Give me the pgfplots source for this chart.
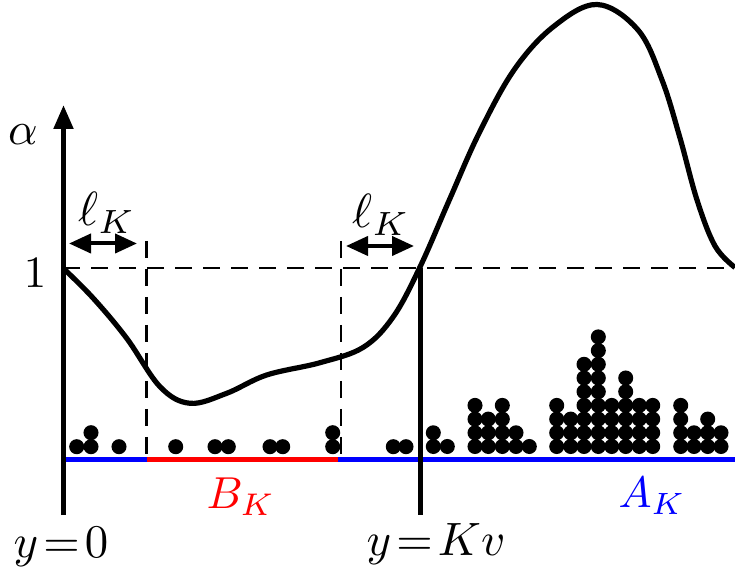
\documentclass[border=0pt]{standalone}
\usepackage{graphicx}
\usepackage{pgfplots}
\pgfplotsset{compat=1.18}
\usetikzlibrary{arrows.meta}
\pgfplotstableread{
x y
76.7 446.7
91 446.7
91 432.7
119 446.7
175.7 446.7
215 446.7
228.3 446.7
270 446.7
282.7 446.7
332.7 446.7
332.7 432.7
393.3 446.7
406 446.7
433.3 446.5
433.3 432.8
447.3 446.5
475 446.5
475 432.8
475 419.1
475 405.4
488.3 446.5
488.3 432.8
488.3 419.1
502.3 446.5
502.3 432.8
502.3 419.1
502.3 405.4
516 446.5
516 432.8
529.3 446.5
556.7 446.5
556.7 432.8
556.7 419.1
556.7 405.4
570.7 446.5
570.7 432.8
570.7 419.1
584 446.5
584 432.8
584 419.1
584 405.4
584 391.7
584 378.0
584 364.3
598.3 446.5
598.3 432.8
598.3 419.1
598.3 405.4
598.3 391.7
598.3 378.0
598.3 364.3
598.3 350.6
598.3 336.9
611.7 446.5
611.7 432.8
611.7 419.1
611.7 405.4
625.7 446.5
625.7 432.8
625.7 419.1
625.7 405.4
625.7 391.7
625.7 378.0
639.3 446.5
639.3 432.8
639.3 419.1
639.3 405.4
652.7 446.5
652.7 432.8
652.7 419.1
652.7 405.4
680.7 446.5
680.7 432.8
680.7 419.1
680.7 405.4
694 446.5
694 432.8
707.7 446.5
707.7 432.8
707.7 419.1
721 446.5
721 432.8
}\dotdata
\pgfplotstableread{
x y
63 268
93.3 298.3
126.7 338.3
160 386.7
190 403.3
226.7 393.3
266.7 375
320 362.7
363.3 347.3
393.3 316.7
420 267
449.3 200
479 133.3
514 70
553 27
597 4.5
638 30
662 80
680 138
697 200
715 246
735 267.5
}\curvedata
\begin{document}
\begin{tikzpicture}
\begin{axis}[scale only axis, width=183.75pt, height=143.5pt,
  xmin=0, xmax=735, ymin=0, ymax=574, y dir=reverse,
  hide axis, clip=false,
  every node/.style={font=\fontsize{12}{14}\selectfont}]
% dashed guides
\addplot[black, line width=0.6pt, dash pattern=on 4.25pt off 2.75pt] coordinates {(63,268) (735,268)};
\addplot[black, line width=0.6pt, dash pattern=on 4.25pt off 2.75pt] coordinates {(146.5,241) (146.5,460)};
\addplot[black, line width=0.6pt, dash pattern=on 4.25pt off 2.75pt] coordinates {(341,241) (341,460)};
% baseline
\addplot[blue, line width=1.25pt] coordinates {(63,460) (735,460)};
\addplot[red, line width=1.25pt] coordinates {(146.5,460) (338,460)};
% axes
\addplot[black, line width=1.25pt, -{Triangle[length=6pt,width=4.75pt]}] coordinates {(63.5,515) (63.5,105)};
\addplot[black, line width=1.25pt] coordinates {(420,268) (420,515)};
% l_K arrows
\addplot[black, line width=1pt, {Triangle[length=5.5pt,width=4.75pt]}-{Triangle[length=5.5pt,width=4.75pt]}] coordinates {(69,243.5) (137,243.5)};
\addplot[black, line width=1pt, {Triangle[length=5.5pt,width=4.75pt]}-{Triangle[length=5.5pt,width=4.75pt]}] coordinates {(346,246) (414,246)};
% curve
\addplot[black, line width=1.3pt, smooth, tension=0.6] table {\curvedata};
% dots
\addplot[only marks, mark=*, mark size=1.675pt, black] table {\dotdata};
% labels
\node[anchor=base] at (23,145) {\scalebox{1.15}{$\alpha$}};
\node[anchor=base] at (35,288) {\scalebox{1.12}{$1$}};
\node[anchor=base] at (107,226) {\scalebox{1.2}{$\ell_K$}};
\node[anchor=base] at (381,228) {\scalebox{1.2}{$\ell_K$}};
\node[anchor=base] at (61,557) {\scalebox{1.17}{$y\!=\!0$}};
\node[anchor=base] at (436,556) {\scalebox{1.17}{$y\!=\!Kv$}};
\node[anchor=base, text=red] at (241,509) {\scalebox{1.12}{$B_K$}};
\node[anchor=base, text=blue] at (652,508) {\scalebox{1.1}{$A_K$}};
\end{axis}
\pgfresetboundingbox
\path[use as bounding box] (current axis.south west) rectangle (current axis.north east);
\end{tikzpicture}
\end{document}
